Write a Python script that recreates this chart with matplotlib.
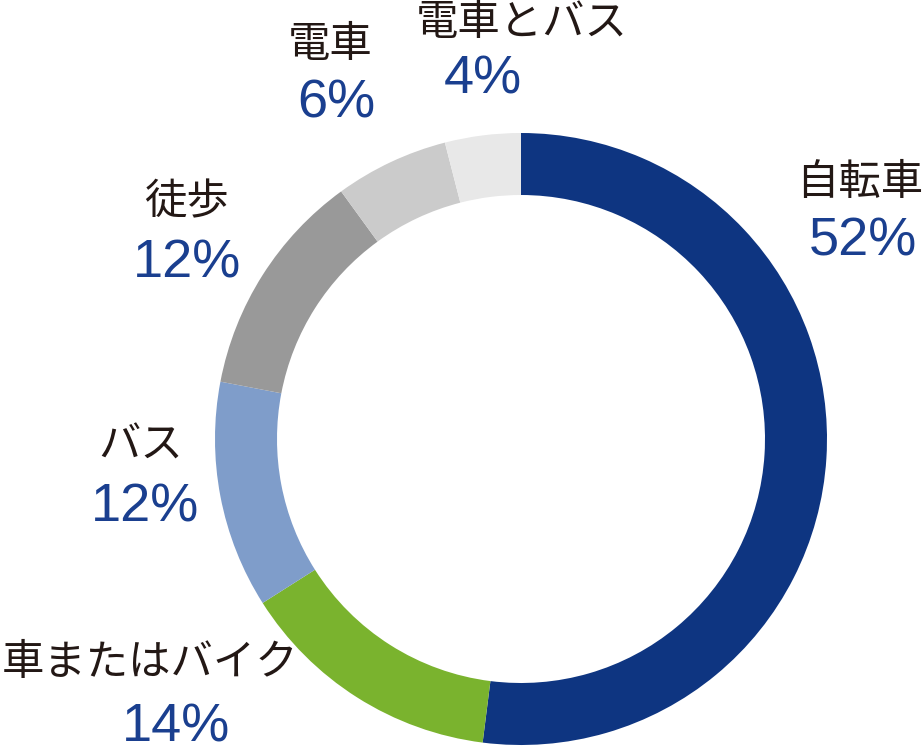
import matplotlib.pyplot as plt

plt.rcParams['font.family'] = ['Noto Sans CJK JP', 'DejaVu Sans']

# データ (時計回り、12時の位置から)
labels = ["自転車", "車またはバイク", "バス", "徒歩", "電車", "電車とバス"]
values = [52, 14, 12, 12, 6, 4]
colors = ["#0e3581", "#7ab32e", "#7f9dca", "#999999", "#cbcbcb", "#e8e8e8"]

# ラベルの位置 (ピクセル座標: 名前, パーセント)
name_pos = [(860, 183), (150, 663), (141, 446), (186, 202), (330, 45), (522, 23)]
pct_pos = [(863, 242), (176, 728), (145, 508), (187, 264), (336, 104), (483, 80)]

fig = plt.figure(figsize=(9.24, 7.52), dpi=100)
ax = fig.add_axes([0, 0, 1, 1])

# y軸を反転しているので startangle=-90 で12時の位置、反時計回り=画面上は時計回り
ax.pie(values, colors=colors, startangle=-90, counterclock=True,
       center=(521, 439), radius=306, frame=True,
       wedgeprops=dict(width=62, linewidth=0))
ax.set_xlim(0, 924)
ax.set_ylim(752, 0)
ax.set_aspect('equal')
ax.axis('off')

for name, v, (nx, ny), (px, py) in zip(labels, values, name_pos, pct_pos):
    ax.text(nx, ny, name, fontsize=30.5, color="#231815",
            ha='center', va='center')
    ax.text(px, py, f"{v}%", fontsize=39, color="#1a3f8f",
            family='Liberation Sans', ha='center', va='center')

fig.savefig("out.png", dpi=100)
